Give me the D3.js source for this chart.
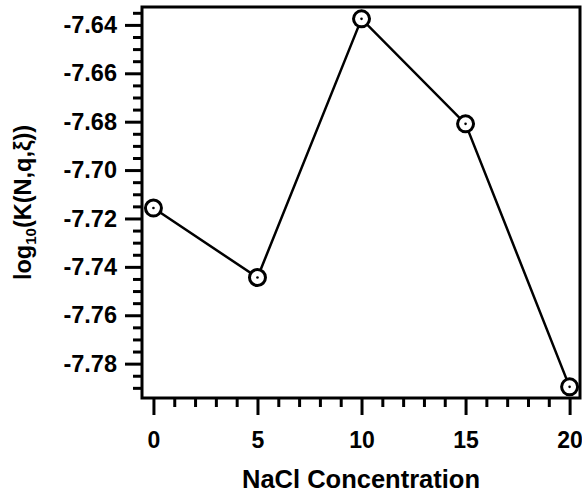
<!DOCTYPE html>
<html>
<head>
<meta charset="utf-8">
<script src="https://cdn.jsdelivr.net/npm/d3@7"></script>
<style>
  body { margin: 0; background: #fff; }
  svg text { font-family: "Liberation Sans", Arial, sans-serif; font-weight: bold; fill: #000; }
</style>
</head>
<body>
<svg id="visu" width="582" height="493"></svg>
<script>
// data
var concentrations = [0, 5, 10, 15, 20];
var logK = [-7.7157, -7.7444, -7.6375, -7.6809, -7.7896];
var xTicks = [0, 5, 10, 15, 20];
var yTicks = [-7.78, -7.76, -7.74, -7.72, -7.70, -7.68, -7.66, -7.64];

var vis = d3.select("#visu"),
    WIDTH = 582,
    HEIGHT = 493,
    MARGINS = { top: 7, right: 2, bottom: 95, left: 142 };

var xScale = d3.scaleLinear()
    .domain([-0.55, 20.5])
    .range([MARGINS.left, WIDTH - MARGINS.right]);
var yScale = d3.scaleLinear()
    .domain([-7.7942, -7.6326])
    .range([HEIGHT - MARGINS.bottom, MARGINS.top]);

var bottom = HEIGHT - MARGINS.bottom;

// minor ticks
var xMinor = d3.range(0, 21, 1).filter(function(d) { return d % 5 !== 0; });
var yMinor = d3.range(-7.79, -7.634, 0.005).filter(function(d) {
  return Math.abs(Math.round(d * 200) % 4) !== 0;
});

vis.append("g")
  .attr("transform", "translate(0," + bottom + ")")
  .call(d3.axisBottom(xScale).tickValues(xMinor).tickSize(9).tickFormat(""))
  .call(function(g) { g.select(".domain").remove(); })
  .selectAll("line").attr("stroke-width", 3);

vis.append("g")
  .attr("transform", "translate(0," + bottom + ")")
  .call(d3.axisBottom(xScale).tickValues(xTicks).tickSize(17).tickPadding(17))
  .call(function(g) { g.select(".domain").remove(); })
  .call(function(g) {
    g.selectAll("line").attr("stroke-width", 3);
    g.selectAll("text").attr("font-size", 23);
  });

vis.append("g")
  .attr("transform", "translate(" + MARGINS.left + ",0)")
  .call(d3.axisLeft(yScale).tickValues(yMinor).tickSize(9).tickFormat(""))
  .call(function(g) { g.select(".domain").remove(); })
  .selectAll("line").attr("stroke-width", 3);

vis.append("g")
  .attr("transform", "translate(" + MARGINS.left + ",0)")
  .call(d3.axisLeft(yScale).tickValues(yTicks).tickSize(17).tickPadding(8)
    .tickFormat(function(d) { return d.toFixed(2); }))
  .call(function(g) { g.select(".domain").remove(); })
  .call(function(g) {
    g.selectAll("line").attr("stroke-width", 3);
    g.selectAll("text").attr("font-size", 23.5);
  });

// frame
vis.append("rect")
  .attr("x", MARGINS.left)
  .attr("y", MARGINS.top)
  .attr("width", WIDTH - MARGINS.right - MARGINS.left)
  .attr("height", bottom - MARGINS.top)
  .attr("fill", "none")
  .attr("stroke", "#000")
  .attr("stroke-width", 3);

var points = concentrations.map(function(c, i) { return { x: c, y: logK[i] }; });

var lineGen = d3.line()
  .x(function(d) { return xScale(d.x); })
  .y(function(d) { return yScale(d.y); });

vis.append("path")
  .attr("d", lineGen(points))
  .attr("fill", "none")
  .attr("stroke", "#000")
  .attr("stroke-width", 2.5);

var marks = vis.selectAll(".pt").data(points).enter().append("g")
  .attr("transform", function(d) { return "translate(" + xScale(d.x) + "," + yScale(d.y) + ")"; });
marks.append("circle")
  .attr("r", 8)
  .attr("fill", "#fff")
  .attr("stroke", "#000")
  .attr("stroke-width", 3);
marks.append("circle")
  .attr("r", 1.3)
  .attr("fill", "#000");

// axis titles
vis.append("text")
  .attr("x", (MARGINS.left + WIDTH - MARGINS.right) / 2)
  .attr("y", 488)
  .attr("text-anchor", "middle")
  .attr("font-size", 25.5)
  .text("NaCl Concentration");

var yt = vis.append("text")
  .attr("transform", "translate(31," + (MARGINS.top + bottom) / 2 + ") rotate(-90)")
  .attr("text-anchor", "middle")
  .attr("font-size", 23.5);
yt.append("tspan").text("log");
yt.append("tspan").attr("font-size", 15).attr("dy", 5).text("10");
yt.append("tspan").attr("dy", -5).text("(K(N,q,ξ))");
</script>
</body>
</html>
